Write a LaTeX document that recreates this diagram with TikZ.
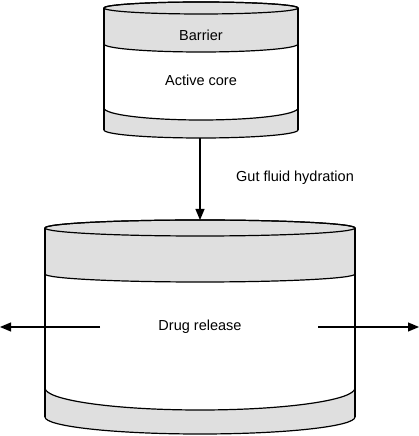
\documentclass[tikz,border=0pt]{standalone}
\usepackage{fontspec}
\setmainfont{Liberation Sans}
\usetikzlibrary{arrows.meta}
\begin{document}
\begin{tikzpicture}[x=1pt,y=1pt,line width=1.2pt,
  band/.style={fill=gray!25,draw=black,line width=1.2pt},
  lbl/.style={font=\fontsize{14.5}{17}\selectfont,inner sep=0pt},
  arr/.style={-{Triangle[length=11pt,width=9pt]},line width=1.2pt}]
\useasboundingbox (0,0) rectangle (419,436);
% small cylinder
\path[band] (104,428) -- (104,392) arc[start angle=180,end angle=360,x radius=97,y radius=8]
  -- (298,428) arc[start angle=0,end angle=180,x radius=97,y radius=6] -- cycle;
\draw (201,428) ellipse[x radius=97,y radius=6];
\path[band] (104,328) arc[start angle=180,end angle=360,x radius=97,y radius=12]
  -- (298,306) arc[start angle=0,end angle=-180,x radius=97,y radius=8] -- cycle;
\draw (104,428) -- (104,306) (298,428) -- (298,306);
\node[lbl] (barrier) at (201,401) {Barrier};
\node[lbl] (core) at (201,356) {Active core};
% large cylinder
\path[band] (45,208) -- (45,162) arc[start angle=180,end angle=360,x radius=155,y radius=8]
  -- (355,208) arc[start angle=0,end angle=180,x radius=155,y radius=8] -- cycle;
\draw (200,208) ellipse[x radius=155,y radius=8];
\path[band] (45,48) arc[start angle=180,end angle=360,x radius=155,y radius=22]
  -- (355,19) arc[start angle=0,end angle=-180,x radius=155,y radius=17] -- cycle;
\draw (45,208) -- (45,19) (355,208) -- (355,19);
\node[lbl] (drug) at (200,109) {Drug release};
% connectors
\coordinate (smallbottom) at (200,298);
\coordinate (largetop) at (200,216);
\draw[arr] (smallbottom) -- (largetop);
\node[lbl] (gut) at (295,258) {Gut fluid hydration};
\coordinate (lstart) at (100,109);
\coordinate (lend) at (0,109);
\coordinate (rstart) at (318,109);
\coordinate (rend) at (419,109);
\draw[arr] (lstart) -- (lend);
\draw[arr] (rstart) -- (rend);
\end{tikzpicture}
\end{document}
